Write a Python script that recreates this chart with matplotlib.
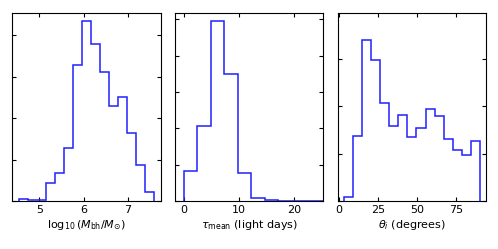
import numpy as np
import matplotlib
matplotlib.use('Agg')
import matplotlib.pyplot as plt

# panel 1: log10 black hole mass
mbh_edges = np.linspace(4.54, 7.59, 16)
mbh_counts = [6, 2, 3, 44, 67, 128, 329, 435, 380, 312, 230, 250, 164, 88, 21]

# panel 2: mean lag (light days)
tau_edges = np.arange(12) * 2.44 + 0.05
tau_counts = [83, 207, 495, 350, 78, 9, 3, 0, 0, 0, 0]

# panel 3: inclination angle (degrees)
theta_edges = np.linspace(3.2, 90.0, 16)
theta_counts = [8, 138, 339, 298, 206, 159, 181, 135, 154, 194, 179, 130, 107, 98, 127]

panels = [
    (mbh_edges, mbh_counts, (4.39, 7.74), [5, 6, 7], 454,
     r'$\log_{10}(M_{\rm bh}/M_{\odot})$'),
    (tau_edges, tau_counts, (-1.6, 25.4), [0, 10, 20], 517,
     r'$\tau_{\rm mean}$ (light days)'),
    (theta_edges, theta_counts, (-0.8, 94.3), [0, 25, 50, 75], 397,
     r'$\theta_i$ (degrees)'),
]

fig = plt.figure(figsize=(4.98, 2.49), dpi=100)
lefts = [0.0247, 0.3514, 0.6787]

for left, (edges, counts, xlim, xticks, ytop, label) in zip(lefts, panels):
    ax = fig.add_axes([left, 0.1928, 0.298, 0.755])
    ax.hist(edges[:-1], bins=edges, weights=counts, histtype='step',
            color='#2020ff', linewidth=1.1)
    ax.set_xlim(*xlim)
    ax.set_ylim(0, ytop)
    ax.set_xticks(xticks)
    ax.set_yticks(np.arange(0, ytop, 100))
    ax.set_yticklabels([])
    ax.tick_params(direction='in', top=True, right=True, length=3,
                   width=0.8, labelsize=8, pad=3)
    for s in ax.spines.values():
        s.set_linewidth(0.8)
    ax.set_xlabel(label, fontsize=8, labelpad=2)

fig.savefig('out.png', dpi=100)
